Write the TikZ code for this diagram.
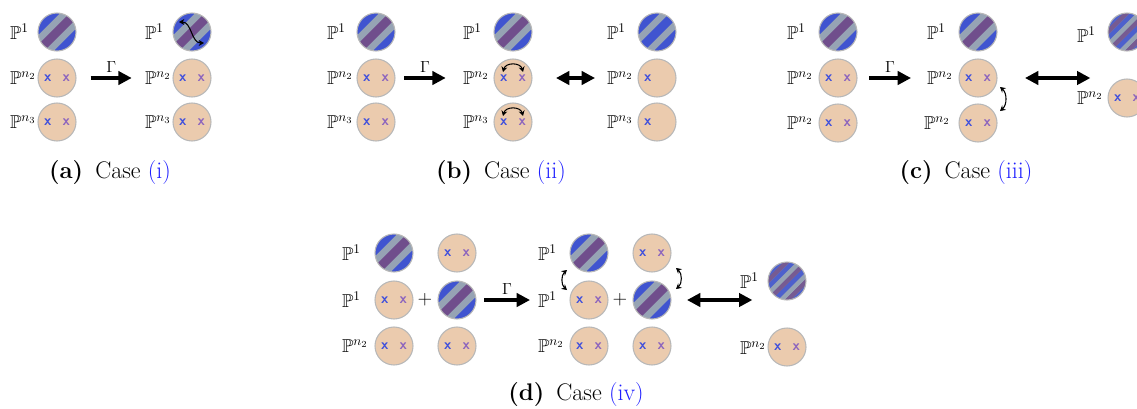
\documentclass[tikz,border=0pt]{standalone}
\usepackage{amsmath}
\usepackage{amssymb}
\usepackage{tikz}
\usetikzlibrary{arrows.meta}
\definecolor{sphbeige}{HTML}{EBCBAE}
\definecolor{sphblue}{HTML}{4054D0}
\definecolor{sphgray}{HTML}{96A3B4}
\definecolor{sphpurple}{HTML}{704E8C}
\definecolor{crossblue}{HTML}{4050DC}
\definecolor{crosspurple}{HTML}{8C64BE}
\definecolor{linkblue}{HTML}{1E1EFF}

% marcas dentro de las esferas
\newcommand{\crosses}{\textcolor{crossblue}{x}\hspace{8.5pt}\textcolor{crosspurple}{x}}
\newcommand{\onecross}{\textcolor{crossblue}{x}\hspace{8.5pt}\phantom{x}}
% banda diagonal a 45 grados entre las distancias #2 y #3 del centro
\newcommand{\band}[3]{%
    \fill[#1] (135:{#2}) ++(45:30) -- ++(225:60) -- ++(135:{#3-(#2)}) -- ++(45:60) -- cycle;}
% rayas diagonales (banda central en color #1)
\newcommand{\sphstripes}[1]{%
    \begin{scope}[shift={(path picture bounding box.center)}]
        \band{sphgray}{-30}{30}
        \band{#1}{-4.3}{4.3}
        \band{sphblue}{11.3}{30}
        \band{sphblue}{-30}{-11.3}
    \end{scope}}
% rayas finas mezcladas
\newcommand{\sphblend}{%
    \begin{scope}[shift={(path picture bounding box.center)}]
        \band{sphgray}{-30}{30}
        \foreach \k/\c in {-4/sphblue, -3/sphpurple, -2/sphgray, -1/sphblue, 0/sphpurple,
                           1/sphgray, 2/sphblue, 3/sphpurple, 4/sphblue}
            {\band{\c!85!sphgray}{\k*4.6-2.3}{\k*4.6+2.3}}
    \end{scope}}

\begin{document}
\begin{tikzpicture}[x=0.75pt, y=0.75pt,
        every node/.style={inner sep=0pt, outer sep=0pt},
        % ============= Estilos =============
        sph/.style={circle, minimum size=28.5pt, fill=sphbeige, draw=black!28,
                    line width=0.8pt, font=\fontsize{11}{11}\sffamily\bfseries},
        stripesph/.style={sph, path picture={\sphstripes{sphpurple}}},
        bluesph/.style={sph, path picture={\sphstripes{sphblue}}},
        blendsph/.style={sph, path picture={\sphblend}},
        plabel/.style={anchor=west, font=\fontsize{14}{16}\selectfont},
        capt/.style={font=\fontsize{18}{21}\selectfont},
        gamarrow/.style={-{Triangle[length=10pt,width=10pt]}, line width=2.4pt},
        dblarrow/.style={{Triangle[length=10pt,width=10pt]}-{Triangle[length=10pt,width=10pt]},
                         line width=2.4pt},
        swaparrow/.style={{Stealth[length=4pt,width=4.5pt]}-{Stealth[length=4pt,width=4.5pt]},
                          line width=0.8pt}
    ]
        \useasboundingbox (0,0) rectangle (1137,-408);
        \clip (0,0) rectangle (1137,-408);

        % ===== Esferas =====
        \foreach \n/\x/\y in {a1a/57/32, a2a/192/32, b1a/376/32, b2a/513/32, c1a/838/32,
                              c2a/978/32, d1a/394/253, d2b/457/300, d3a/589/253, d4b/652/300}
            \node[stripesph] (\n) at (\x,-\y) {};
        \node[bluesph] (b3a) at (657,-32) {};
        \node[blendsph] (c3a) at (1127,-32) {};
        \node[blendsph] (d5a) at (787,-281) {};
        \foreach \n/\x/\y in {a1b/57/78, a1c/57/122, a2b/192/78, a2c/192/122,
                              b1b/376/78, b1c/376/122, b2b/513/78, b2c/513/122,
                              c1b/838/78, c1c/838/123, c2b/978/78, c2c/978/123, c3b/1127/98,
                              d1b/394/300, d1c/394/346, d2a/457/253, d2c/457/346,
                              d3b/589/300, d3c/589/346, d4a/652/253, d4c/652/346, d5b/787/347}
            \node[sph] (\n) at (\x,-\y) {\crosses};
        \foreach \n/\y in {b3b/78, b3c/122}
            \node[sph] (\n) at (657,-\y) {\onecross};

        % ===== Etiquetas =====
        \foreach \n/\x/\y/\e in {la1a/10/32/1, la1b/10/78/n_2, la1c/10/122/n_3,
                                 la2a/145/32/1, la2b/145/78/n_2, la2c/145/122/n_3,
                                 lb1a/327/32/1, lb1b/327/78/n_2, lb1c/327/122/n_3,
                                 lb2a/463/32/1, lb2b/463/78/n_2, lb2c/463/122/n_3,
                                 lb3a/607/32/1, lb3b/607/78/n_2, lb3c/607/122/n_3,
                                 lc1a/787/32/1, lc1b/787/78/n_2, lc1c/787/123/n_2,
                                 lc2a/927/32/1, lc2b/927/78/n_2, lc2c/924/123/n_2,
                                 lc3a/1077/35/1, lc3b/1077/98/n_2,
                                 ld1a/342/253/1, ld1b/342/300/1, ld1c/342/346/n_2,
                                 ld3a/538/253/1, ld3b/538/300/1, ld3c/538/346/n_2,
                                 ld5a/740/281/1, ld5b/740/348/n_2}
            \node[plabel] (\n) at (\x,-\y) {$\mathbb{P}^{\e}$};
        \node[plabel, anchor=center] (plusa) at (425,-300) {$+$};
        \node[plabel, anchor=center] (plusb) at (620,-300) {$+$};

        % ===== Flechas =====
        \draw[gamarrow] ([xshift=11]a1b.east) -- node[above=4pt, font=\fontsize{13}{15}\selectfont] (gama) {$\Gamma$} ([xshift=-10]la2b.west);
        \draw[gamarrow] ([xshift=7]b1b.east) -- node[above=4pt, font=\fontsize{13}{15}\selectfont] (gamb) {$\Gamma$} ([xshift=-13]lb2b.west);
        \draw[gamarrow] ([xshift=9]c1b.east) -- node[above=4pt, font=\fontsize{13}{15}\selectfont] (gamc) {$\Gamma$} ([xshift=-12]lc2b.west);
        \draw[gamarrow] ([xshift=6]d2b.east) -- node[above=4pt, font=\fontsize{13}{15}\selectfont] (gamd) {$\Gamma$} ([xshift=-6]ld3b.west);
        \draw[dblarrow] ([xshift=18]b2b.east) -- ([xshift=-9]lb3b.west);
        \draw[dblarrow] ([xshift=21]c2b.east) -- ([xshift=70]c2b.east);
        \draw[dblarrow] ([xshift=12]d4b.east) -- ([xshift=61]d4b.east);

        % ===== Intercambios =====
        \draw[swaparrow] ([shift={(-13,10)}]a2a.center) to[out=0, in=180] ([shift={(12,-11)}]a2a.center);
        \draw[swaparrow] ([shift={(-10,6)}]b2b.center) to[bend left=75, looseness=1.3] ([shift={(10,6)}]b2b.center);
        \draw[swaparrow] ([shift={(-10,6)}]b2c.center) to[bend left=75, looseness=1.3] ([shift={(10,6)}]b2c.center);
        \draw[swaparrow] ([shift={(22,-9)}]c2b.center) to[bend left=50] ([shift={(22,12)}]c2c.center);
        \draw[swaparrow] ([shift={(-22,-17)}]d3a.center) to[bend right=50] ([shift={(-22,10)}]d3b.center);
        \draw[swaparrow] ([shift={(24,-15)}]d4a.center) to[bend left=50] ([shift={(24,11)}]d4b.center);

        % ===== Subtítulos =====
        \node[capt] (capa) at (110,-173) {\textbf{(a)}\enspace Case \textcolor{linkblue}{(i)}};
        \node[capt] (capb) at (501,-173) {\textbf{(b)}\enspace Case \textcolor{linkblue}{(ii)}};
        \node[capt] (capc) at (966,-173) {\textbf{(c)}\enspace Case \textcolor{linkblue}{(iii)}};
        \node[capt] (capd) at (576,-395) {\textbf{(d)}\enspace Case \textcolor{linkblue}{(iv)}};
    \end{tikzpicture}
\end{document}
